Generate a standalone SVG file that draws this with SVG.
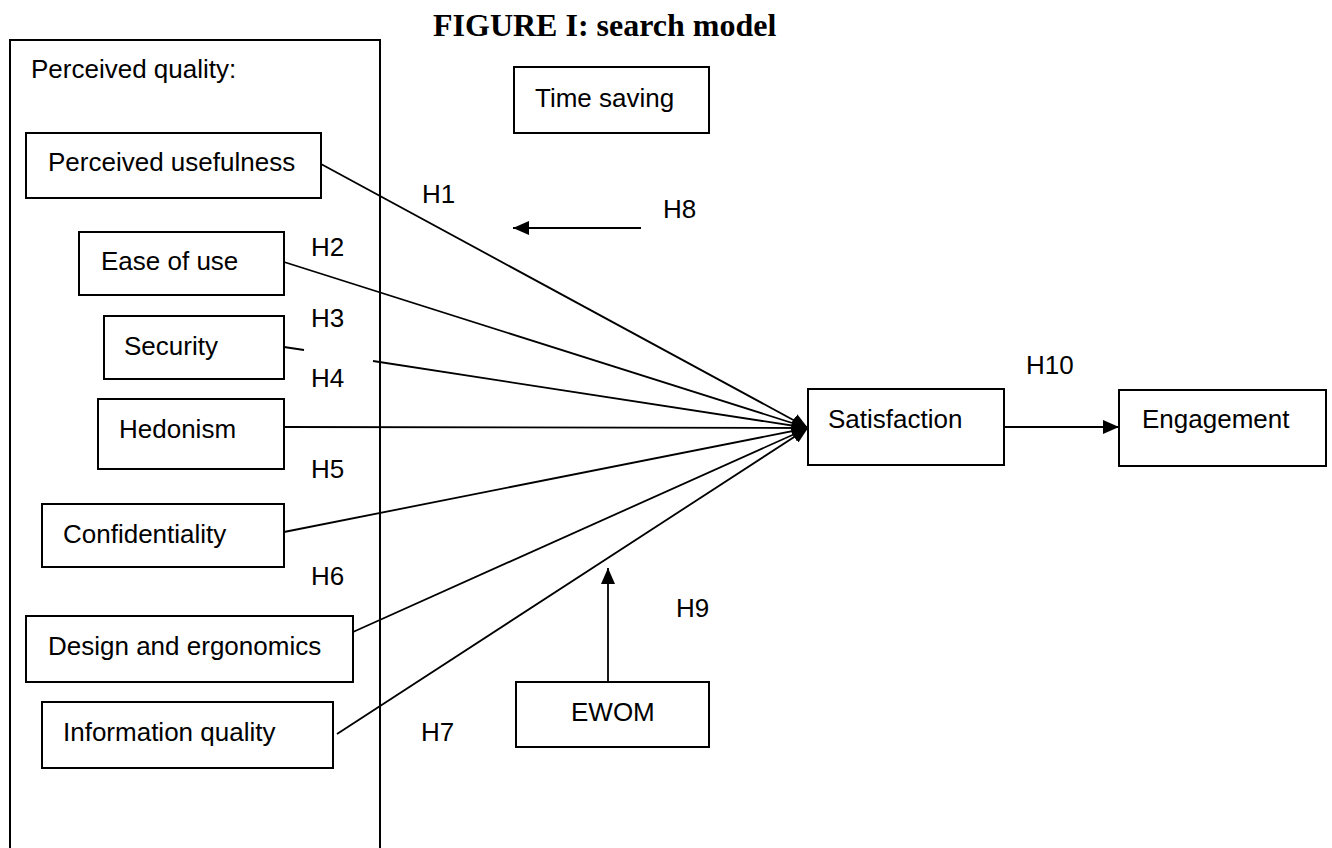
<svg xmlns="http://www.w3.org/2000/svg" width="1332" height="848" viewBox="0 0 1332 848">
  <style>
    .box { fill: #fff; stroke: #000; stroke-width: 2; }
    .frame { fill: none; stroke: #000; stroke-width: 2; }
    .lbl { font-family: "Liberation Sans", Arial, sans-serif; font-size: 26px; fill: #000; }
    .title { font-family: "Liberation Serif", "Times New Roman", serif; font-size: 32px; font-weight: bold; fill: #000; }
    .conn { fill: none; stroke: #000; stroke-width: 1.8; }
  </style>
  <defs>
    <marker id="arrow" viewBox="0 0 16 14" markerUnits="userSpaceOnUse" markerWidth="16" markerHeight="14" refX="16" refY="7" orient="auto">
      <path d="M0,0 L16,7 L0,14 z" fill="#000"/>
    </marker>
  </defs>
  <rect width="1332" height="848" fill="#fff"/>

  <text class="title" x="433" y="36">FIGURE I: search model</text>

  <g id="perceived-quality">
    <rect class="frame" x="10" y="40" width="370" height="830"/>
    <text class="lbl" x="31" y="78">Perceived quality:</text>
  </g>

  <g id="perceived-usefulness">
    <rect class="box" x="26" y="133" width="295" height="65"/>
    <text class="lbl" x="48" y="171">Perceived usefulness</text>
  </g>
  <g id="ease-of-use">
    <rect class="box" x="79" y="232" width="205" height="63"/>
    <text class="lbl" x="101" y="270">Ease of use</text>
  </g>
  <g id="security">
    <rect class="box" x="104" y="316" width="180" height="63"/>
    <text class="lbl" x="124" y="355">Security</text>
  </g>
  <g id="hedonism">
    <rect class="box" x="98" y="399" width="186" height="70"/>
    <text class="lbl" x="119" y="438">Hedonism</text>
  </g>
  <g id="confidentiality">
    <rect class="box" x="42" y="504" width="242" height="63"/>
    <text class="lbl" x="63" y="543">Confidentiality</text>
  </g>
  <g id="design-ergonomics">
    <rect class="box" x="26" y="616" width="327" height="66"/>
    <text class="lbl" x="48" y="655">Design and ergonomics</text>
  </g>
  <g id="information-quality">
    <rect class="box" x="42" y="702" width="291" height="66"/>
    <text class="lbl" x="63" y="741">Information quality</text>
  </g>

  <g id="time-saving">
    <rect class="box" x="514" y="67" width="195" height="66"/>
    <text class="lbl" x="535" y="107">Time saving</text>
  </g>
  <g id="satisfaction">
    <rect class="box" x="808" y="389" width="196" height="76"/>
    <text class="lbl" x="828" y="428">Satisfaction</text>
  </g>
  <g id="engagement">
    <rect class="box" x="1119" y="390" width="207" height="76"/>
    <text class="lbl" x="1142" y="428">Engagement</text>
  </g>
  <g id="ewom">
    <rect class="box" x="516" y="682" width="193" height="65"/>
    <text class="lbl" x="571" y="721">EWOM</text>
  </g>

  <g id="connectors">
    <line class="conn" x1="321" y1="164" x2="808" y2="428" marker-end="url(#arrow)"/>
    <line class="conn" x1="284" y1="262" x2="808" y2="428" marker-end="url(#arrow)"/>
    <line class="conn" x1="284" y1="347" x2="304" y2="350"/>
    <line class="conn" x1="373" y1="361" x2="808" y2="428" marker-end="url(#arrow)"/>
    <line class="conn" x1="284" y1="427" x2="808" y2="428" marker-end="url(#arrow)"/>
    <line class="conn" x1="284" y1="532" x2="808" y2="428" marker-end="url(#arrow)"/>
    <line class="conn" x1="353" y1="632" x2="808" y2="428" marker-end="url(#arrow)"/>
    <line class="conn" x1="337" y1="734" x2="808" y2="428" marker-end="url(#arrow)"/>
    <line class="conn" x1="1004" y1="427" x2="1119" y2="427" marker-end="url(#arrow)"/>
    <line class="conn" x1="641" y1="228" x2="513" y2="228" marker-end="url(#arrow)"/>
    <line class="conn" x1="608" y1="682" x2="608" y2="568" marker-end="url(#arrow)"/>
  </g>

  <g id="hypothesis-labels">
    <text class="lbl" x="422" y="203">H1</text>
    <text class="lbl" x="311" y="256">H2</text>
    <text class="lbl" x="311" y="327">H3</text>
    <text class="lbl" x="311" y="387">H4</text>
    <text class="lbl" x="311" y="478">H5</text>
    <text class="lbl" x="311" y="585">H6</text>
    <text class="lbl" x="421" y="741">H7</text>
    <text class="lbl" x="663" y="218">H8</text>
    <text class="lbl" x="676" y="617">H9</text>
    <text class="lbl" x="1026" y="374">H10</text>
  </g>
</svg>
